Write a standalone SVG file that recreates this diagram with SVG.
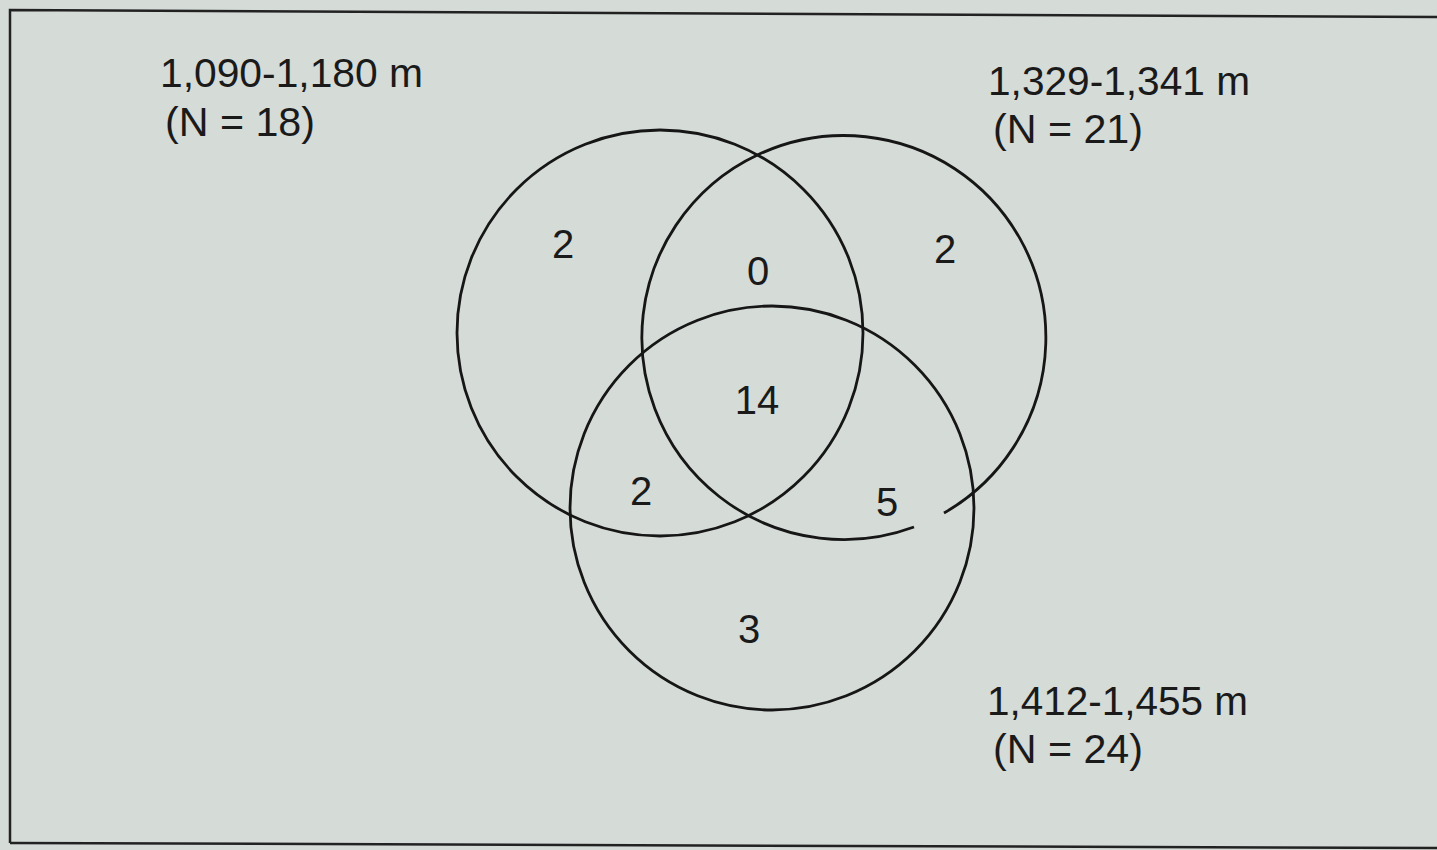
<svg xmlns="http://www.w3.org/2000/svg" width="1437" height="850" viewBox="0 0 1437 850">
  <style>
    .ring { fill: none; stroke: #161616; stroke-width: 2.8; }
    .lbl { font-family: "Liberation Sans", Arial, sans-serif; font-size: 40px; fill: #1a1a1a; }
    .num { font-family: "Liberation Sans", Arial, sans-serif; font-size: 40px; fill: #1a1a1a; text-anchor: middle; }
    .frame { fill: none; stroke: #222; stroke-width: 2.5; }
  </style>
  <rect x="0" y="0" width="1437" height="850" fill="#d5dbd7"/>
  <path class="frame" d="M 10 843 L 10 10 L 1437 17"/>
  <path class="frame" d="M 10 843 L 1437 848" stroke-width="3"/>
  <g id="connectors"></g>
  <g id="set-1090-1180">
    <circle class="ring" cx="660" cy="333" r="203"/>
    <text class="lbl" x="160" y="87" textLength="263" lengthAdjust="spacingAndGlyphs">1,090-1,180 m</text>
    <text class="lbl" x="165" y="136" textLength="150" lengthAdjust="spacingAndGlyphs">(N = 18)</text>
  </g>
  <g id="set-1329-1341">
    <path class="ring" d="M 944 513 A 202 202 0 1 0 914 527"/>
    <text class="lbl" x="988" y="95" textLength="262" lengthAdjust="spacingAndGlyphs">1,329-1,341 m</text>
    <text class="lbl" x="993" y="143" textLength="150" lengthAdjust="spacingAndGlyphs">(N = 21)</text>
  </g>
  <g id="set-1412-1455">
    <circle class="ring" cx="772" cy="508" r="202"/>
    <text class="lbl" x="987" y="715" textLength="261" lengthAdjust="spacingAndGlyphs">1,412-1,455 m</text>
    <text class="lbl" x="993" y="763" textLength="150" lengthAdjust="spacingAndGlyphs">(N = 24)</text>
  </g>
  <g id="counts">
    <text class="num" x="563" y="258">2</text>
    <text class="num" x="758" y="285">0</text>
    <text class="num" x="945" y="263">2</text>
    <text class="num" x="757" y="414">14</text>
    <text class="num" x="641" y="505">2</text>
    <text class="num" x="887" y="516">5</text>
    <text class="num" x="749" y="643">3</text>
  </g>
</svg>
